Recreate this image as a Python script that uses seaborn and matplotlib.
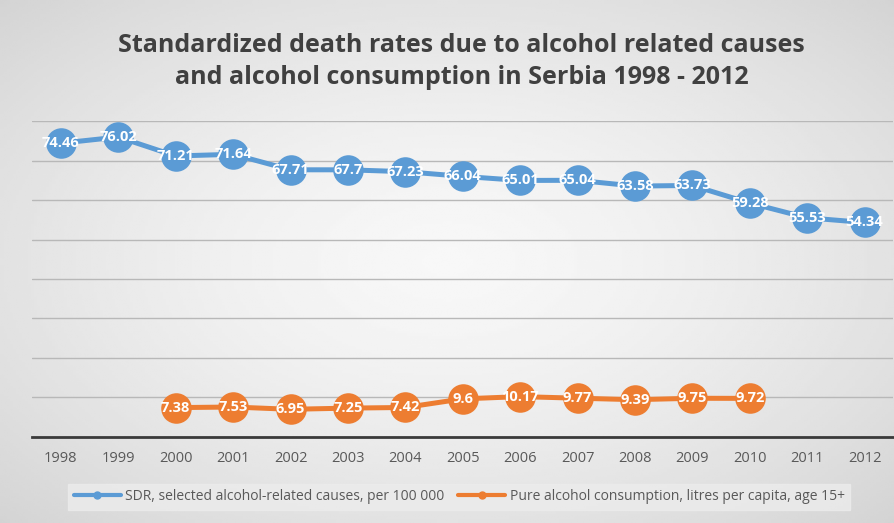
import matplotlib
matplotlib.use("Agg")
import matplotlib.pyplot as plt
import numpy as np
import pandas as pd
import seaborn as sns

years = [1998, 1999, 2000, 2001, 2002, 2003, 2004, 2005, 2006, 2007, 2008, 2009, 2010, 2011, 2012]
sdr = [74.46, 76.02, 71.21, 71.64, 67.71, 67.7, 67.23, 66.04, 65.01, 65.04, 63.58, 63.73, 59.28, 55.53, 54.34]
alcohol = [np.nan, np.nan, 7.38, 7.53, 6.95, 7.25, 7.42, 9.6, 10.17, 9.77, 9.39, 9.75, 9.72, np.nan, np.nan]
sdr_name = "SDR, selected alcohol-related causes, per 100 000"
alc_name = "Pure alcohol consumption, litres per capita, age 15+"

BLUE = "#5b9bd5"
ORANGE = "#ed7d31"

sns.set_theme(style="white")
plt.rcParams["font.family"] = ["Open Sans", "DejaVu Sans"]

df = pd.DataFrame({"year": years, sdr_name: sdr, alc_name: alcohol})
long = df.melt(id_vars="year", var_name="series", value_name="value")
long["pos"] = long["year"].map({y: i for i, y in enumerate(years)})

fig = plt.figure(figsize=(8.95, 5.23), dpi=100)

# soft radial gradient background
bg = fig.add_axes([0, 0, 1, 1], zorder=-10)
yy, xx = np.mgrid[-1:1:200j, -1:1:300j]
r = np.sqrt(xx ** 2 + yy ** 2) / np.sqrt(2)
bg.imshow(0.97 - 0.14 * r ** 1.5, cmap="gray", vmin=0, vmax=1, aspect="auto",
          extent=[0, 1, 0, 1])
bg.axis("off")

ax = fig.add_axes([0.036, 0.165, 0.962, 0.603])
ax.patch.set_alpha(0)

sns.lineplot(data=long, x="pos", y="value", hue="series", palette=[BLUE, ORANGE],
             marker="o", markersize=22, linewidth=3.6, markeredgewidth=0,
             legend=False, ax=ax)

for s, color in [(sdr, BLUE), (alcohol, ORANGE)]:
    for i, v in enumerate(s):
        if np.isnan(v):
            continue
        ax.text(i, v, f"{v:g}", ha="center", va="center", color="white",
                fontsize=10.5, fontweight="bold", zorder=5)

ax.set_ylim(0, 80)
ax.set_yticks(np.arange(0, 81, 10))
ax.set_yticklabels([])
ax.set_xlim(-0.5, len(years) - 0.5)
ax.set_xticks(range(len(years)))
ax.set_xticklabels(years, fontsize=10.5, color="#595959")
ax.tick_params(axis="x", length=0, pad=10)
ax.tick_params(axis="y", length=0)
ax.grid(axis="y", color="#b8b8b8", linewidth=1)
ax.set_axisbelow(True)
for side in ["left", "right", "top"]:
    ax.spines[side].set_visible(False)
ax.spines["bottom"].set_color("#3a3a3a")
ax.spines["bottom"].set_linewidth(2)
ax.set_xlabel("")
ax.set_ylabel("")

fig.text(0.516, 0.882, "Standardized death rates due to alcohol related causes\nand alcohol consumption in Serbia 1998 - 2012",
         ha="center", va="center", fontsize=18, fontweight="bold", color="#404040",
         linespacing=1.35)

handles = [plt.Line2D([], [], color=BLUE, lw=3, marker="o", ms=5),
           plt.Line2D([], [], color=ORANGE, lw=3, marker="o", ms=5)]
leg = fig.legend(handles, [sdr_name, alc_name], loc="center", bbox_to_anchor=(0.513, 0.05),
                 ncol=2, frameon=True, fontsize=10, handlelength=3.4, columnspacing=1.0,
                 handletextpad=0.3, borderpad=0.4, fancybox=False)
leg.get_frame().set_facecolor("#ececec")
leg.get_frame().set_edgecolor("#ececec")
for t in leg.get_texts():
    t.set_color("#595959")

fig.savefig("out.png", dpi=100)
